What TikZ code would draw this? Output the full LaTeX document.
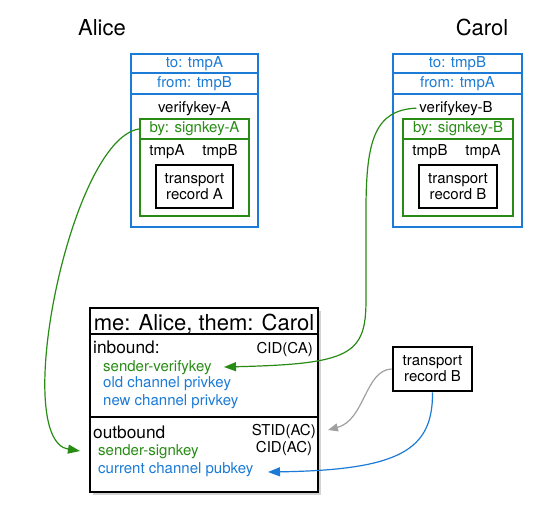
\documentclass[tikz,border=0pt]{standalone}
\usepackage{fontspec}
\setmainfont{TeX Gyre Heros}
\usetikzlibrary{arrows.meta,shadows}
\definecolor{mblue}{RGB}{27,123,214}
\definecolor{mgreen}{RGB}{40,140,20}
\definecolor{mgray}{RGB}{160,160,160}
\begin{document}
\begin{tikzpicture}[x=1pt,y=-1pt,
  txt/.style={font=\fontsize{15}{16}\selectfont, inner sep=0pt},
  midtxt/.style={font=\fontsize{17.3}{19}\selectfont, inner sep=0pt},
  bigtxt/.style={font=\fontsize{22}{24}\selectfont, inner sep=0pt},
  bluebox/.style={draw=mblue, line width=2.8pt, inner sep=0pt, fill=white},
  greenbox/.style={draw=mgreen, line width=2.3pt, inner sep=0pt},
  recbox/.style={draw=black, line width=2.8pt, inner sep=0pt, align=center, txt},
  conn/.style={line width=1.2pt},
  tipg/.style={-{Triangle[length=12pt,width=9pt]}},
  tips/.style={-{Triangle[length=10pt,width=8pt]}}
]
\useasboundingbox (0,0) rectangle (535,522);

% labels
\node[bigtxt, anchor=base] (alice) at (102,35) {Alice};
\node[bigtxt, anchor=base] (carol) at (482,35) {Carol};

% ---------- Alice message ----------
\node[bluebox, minimum width=127pt, minimum height=173pt] (outA) at (194.5,140.5) {};
\node[bluebox, txt, text=mblue, minimum width=127pt, minimum height=19pt] (toA) at (194.5,63.5) {to: tmpA};
\node[bluebox, txt, text=mblue, minimum width=127pt, minimum height=21pt] (fromA) at (194.5,83.5) {from: tmpB};
\node[txt, anchor=base] (vkA) at (194.5,112) {verifykey-A};
\node[greenbox, minimum width=109pt, minimum height=97pt] (grA) at (194.5,167.5) {};
\node[greenbox, txt, text=mgreen, minimum width=109pt, minimum height=20pt] (sigA) at (194.5,129) {by: signkey-A};
\node[txt, anchor=base] (tAa) at (167,155) {tmpA};
\node[txt, anchor=base] (tAb) at (220,155) {tmpB};
\node[recbox, minimum width=77pt, minimum height=43pt] (trA) at (194.5,186.5) {transport\\record A};

% ---------- Carol message ----------
\node[bluebox, minimum width=129pt, minimum height=173pt] (outB) at (457.5,140.5) {};
\node[bluebox, txt, text=mblue, minimum width=129pt, minimum height=19pt] (toB) at (457.5,63.5) {to: tmpB};
\node[bluebox, txt, text=mblue, minimum width=129pt, minimum height=21pt] (fromB) at (457.5,83.5) {from: tmpA};
\node[txt, anchor=base, inner sep=3pt] (vkB) at (456,112) {verifykey-B};
\node[greenbox, minimum width=110pt, minimum height=97pt] (grB) at (458,167.5) {};
\node[greenbox, txt, text=mgreen, minimum width=110pt, minimum height=20pt] (sigB) at (458,129) {by: signkey-B};
\node[txt, anchor=base] (tBb) at (430,155) {tmpB};
\node[txt, anchor=base] (tBa) at (483,155) {tmpA};
\node[recbox, minimum width=78pt, minimum height=43pt] (trBin) at (458,186.5) {transport\\record B};

% ---------- channel state box ----------
\node[draw=black, line width=1.8pt, fill=white, minimum width=228pt, minimum height=184pt,
      drop shadow={shadow xshift=3pt, shadow yshift=-3pt, opacity=0.35}] (main) at (204,400) {};
\node[draw=black, line width=1.8pt, minimum width=228pt, minimum height=26pt] (title) at (204,321) {};
\node[bigtxt, anchor=base] (titletxt) at (204,330) {me: Alice, them: Carol};
\draw[line width=1.8pt] (main.west |- 0,417) -- (main.east |- 0,417);

\node[midtxt, anchor=base west] (inb) at (93,353) {inbound:};
\node[txt, anchor=base east] (cidca) at (313,353) {CID(CA)};
\node[txt, anchor=base west, text=mgreen] (svk) at (103,371) {sender-verifykey};
\node[txt, anchor=base west, text=mblue] (ocp) at (103,387) {old channel privkey};
\node[txt, anchor=base west, text=mblue] (ncp) at (103,405) {new channel privkey};

\node[midtxt, anchor=base west] (outb) at (93,438) {outbound};
\node[txt, anchor=base east] (stid) at (316,435) {STID(AC)};
\node[txt, anchor=base] (cidac) at (284,452) {CID(AC)};
\node[txt, anchor=base west, text=mgreen] (ssk) at (98,455) {sender-signkey};
\node[txt, anchor=base west, text=mblue] (ccp) at (98,473) {current channel pubkey};

% transport record B
\node[recbox, minimum width=79pt, minimum height=44pt] (trB) at (432.5,369) {transport\\record B};

% ---------- connectors ----------
\coordinate (inSS) at (80,451);
\coordinate (inSV) at (224,367);
\coordinate (inST) at (328,430);
\coordinate (inCP) at (268,472);

\draw[conn, mgreen, tipg] (sigA.west) .. controls (70,140) and (10,440) .. (inSS);
\draw[conn, mgreen, tipg] (vkB.west) .. controls (375,110) and (366,140) .. (366,210)
   -- (366,300) .. controls (366,355) and (350,364) .. (inSV);
\draw[conn, mgray, tips] (trB.west) .. controls (365,370) and (365,420) .. (inST);
\draw[conn, mblue, tipg] (trB.south) .. controls (433,450) and (400,470) .. (inCP);
\end{tikzpicture}
\end{document}
